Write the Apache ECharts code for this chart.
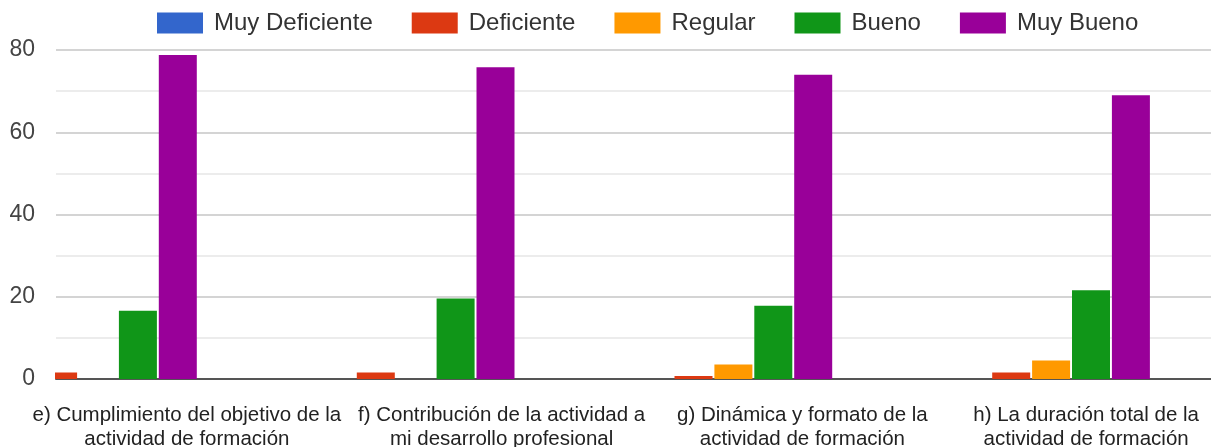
<!DOCTYPE html>
<html>
<head>
<meta charset="utf-8">
<script src="https://cdn.jsdelivr.net/npm/echarts@6/dist/echarts.min.js"></script>
<style>
html,body{margin:0;padding:0;background:#fff;}
#c{width:1211px;height:447px;}
</style>
</head>
<body>
<div id="c"></div>
<script>
const categories = [
  "e) Cumplimiento del objetivo de la\nactividad de formación",
  "f) Contribución de la actividad a\nmi desarrollo profesional",
  "g) Dinámica y formato de la\nactividad de formación",
  "h) La duración total de la\nactividad de formación"
];
const seriesNames = ["Muy Deficiente", "Deficiente", "Regular", "Bueno", "Muy Bueno"];
const muyDeficiente = [0, 0, 0, 0];
const deficiente = [1.6, 1.6, 0.7, 1.6];
const regular = [0, 0, 3.5, 4.5];
const bueno = [16.6, 19.6, 17.8, 21.6];
const muyBueno = [78.8, 75.8, 74.0, 69.0];
const yTicks = [0, 20, 40, 60, 80];
const colors = ["#3366cc", "#dc3912", "#ff9900", "#109618", "#990099"];

const values = [muyDeficiente, deficiente, regular, bueno, muyBueno];
const font = "'Liberation Sans', Arial, sans-serif";

// per-label horizontal nudges (layout only)
const labelPad = [[0, 16, 0, 0], [0, 0, 0, 14], [0, 0, 0, 16], [0, 16, 0, 0]];
const rich = {};
labelPad.forEach((p, i) => {
  rich['p' + i] = {padding: p, fontSize: 20.5, lineHeight: 24, color: '#222', fontFamily: font};
});

const chart = echarts.init(document.getElementById('c'), null, {renderer: 'canvas'});
chart.setOption({
  animation: false,
  color: colors,
  textStyle: {fontFamily: font},
  legend: {
    left: 157, top: 11, padding: 0,
    itemWidth: 46, itemHeight: 21, itemGap: 39,
    icon: 'rect',
    textStyle: {fontSize: 24, color: '#333', fontFamily: font, padding: [0, 0, 0, 6]},
    data: seriesNames
  },
  grid: [
    {left: 56, right: 0, top: 50, bottom: 68, containLabel: false, outerBoundsMode: 'none'},
    {left: 45, right: -33, top: 50, bottom: 68, containLabel: false, outerBoundsMode: 'none'}
  ],
  xAxis: [
    {
      type: 'value', gridIndex: 0,
      min: -0.1322, max: 3.5033,
      axisLine: {show: true, onZero: true, lineStyle: {color: '#555', width: 2}},
      axisTick: {show: false}, axisLabel: {show: false}, splitLine: {show: false}
    },
    {
      type: 'category', gridIndex: 1, data: categories,
      axisLine: {show: false}, axisTick: {show: false}, splitLine: {show: false},
      axisLabel: {
        interval: 0, margin: 24, fontSize: 20.5, lineHeight: 24, color: '#222', fontFamily: font,
        align: 'center', hideOverlap: false,
        formatter: (value, index) => value.split('\n').map(l => '{p' + index + '|' + l + '}').join('\n'),
        rich: rich
      }
    }
  ],
  yAxis: [
    {
      type: 'value', gridIndex: 0, min: yTicks[0], max: yTicks[yTicks.length - 1], interval: 20,
      axisLine: {show: false}, axisTick: {show: false},
      axisLabel: {fontSize: 23, color: '#444', margin: 21, fontFamily: font},
      splitLine: {show: true, lineStyle: {color: '#d4d4d4', width: 2}},
      minorTick: {show: false, splitNumber: 2},
      minorSplitLine: {show: true, lineStyle: {color: '#ececec', width: 2}}
    },
    {
      type: 'value', gridIndex: 1, min: 0, max: 80, show: false
    }
  ],
  graphic: [
    {type: 'rect', left: 36, top: 358, shape: {width: 19, height: 24}, style: {fill: '#fff'}, z: 100, silent: true}
  ],
  series: seriesNames.map((name, s) => ({
    name: name,
    type: 'bar',
    xAxisIndex: 0, yAxisIndex: 0,
    barWidth: 38,
    barGap: '5%',
    clip: true,
    itemStyle: {color: colors[s]},
    data: values[s].map((v, i) => [i, v])
  }))
});
</script>
</body>
</html>
